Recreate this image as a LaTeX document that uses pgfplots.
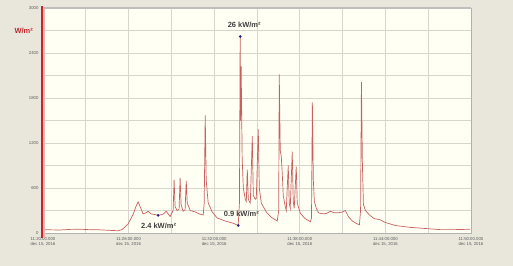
\documentclass[border=0pt]{standalone}
\usepackage{pgfplots}
\pgfplotsset{compat=1.18}
\usepackage{fontspec}
\setmainfont{Liberation Sans}
\definecolor{outerbg}{HTML}{E9E7DC}
\definecolor{innerbg}{HTML}{FFFFF3}
\definecolor{gridc}{HTML}{D6D6CC}
\definecolor{curve}{HTML}{C9605F}
\definecolor{axred}{HTML}{C0282B}
\definecolor{dotc}{HTML}{1F1F8F}
\begin{document}
\begin{tikzpicture}
\path[fill=outerbg, use as bounding box] (-43bp,-33bp) rectangle (470bp,233bp);
\begin{axis}[
  scale only axis, width=428bp, height=225bp,
  xmin=0, xmax=30, ymin=0, ymax=3000,
  xtick={0,6,...,30},
  xticklabels={{11:20:00.000\\dec 15, 2016},{11:26:00.000\\dec 15, 2016},{11:32:00.000\\dec 15, 2016},{11:38:00.000\\dec 15, 2016},{11:44:00.000\\dec 15, 2016},{11:50:00.000\\dec 15, 2016}},
  x tick label style={align=center, font=\fontsize{4.3}{5}\selectfont, text=black!65, yshift=-1bp},
  ytick={0,600,...,3000},
  y tick label style={font=\fontsize{4.3}{5}\selectfont, text=black!65, xshift=-1bp},
  /pgf/number format/assume math mode=true,
  /pgf/number format/1000 sep={},
  minor x tick num=1, minor y tick num=1,
  grid=both,
  major grid style={gridc, line width=0.7bp},
  minor grid style={gridc, line width=0.7bp},
  tick style={draw=none},
  axis background/.style={fill=innerbg},
  axis line style={draw=black!30, line width=0.7bp},
  clip=false,
]
\addplot[curve, line width=0.7bp] coordinates {
(0,45) (0.6,42) (1.19,40) (1.9,48) (2.6,50) (3.3,44) (4.0,42) (4.7,35) (5.26,30)
(5.54,45) (5.96,120) (6.32,250) (6.53,360) (6.67,415) (6.81,350) (7.02,255)
(7.23,270) (7.37,290) (7.58,255) (7.86,245) (8.07,235) (8.42,250) (8.63,290)
(8.91,220) (9.12,300) (9.19,710) (9.26,350) (9.40,300) (9.54,320) (9.61,736)
(9.68,380) (9.82,290) (9.96,310) (10.04,696) (10.11,400) (10.32,300) (10.67,280)
(11.02,250) (11.23,240) (11.30,400) (11.37,1567) (11.44,700) (11.58,400)
(11.86,280) (12.21,200) (12.77,160) (13.33,130) (13.68,100) (13.77,400)
(13.82,2620) (13.85,1500) (13.89,2220) (13.96,1000) (14.04,600) (14.18,450)
(14.25,420) (14.32,845) (14.39,450) (14.53,400) (14.67,1290) (14.74,500)
(14.88,450) (14.95,460) (15.09,1380) (15.16,600) (15.30,400) (15.65,280)
(16.0,210) (16.42,160) (16.52,300) (16.56,2115) (16.63,1100) (16.70,1020)
(16.77,800) (16.84,500) (16.98,350) (17.05,300) (17.19,900) (17.26,400)
(17.33,330) (17.47,1085) (17.54,420) (17.61,330) (17.75,885) (17.82,400)
(18.04,260) (18.39,190) (18.74,150) (18.82,200) (18.88,1740) (18.95,700)
(19.02,420) (19.16,330) (19.30,270) (19.58,255) (19.86,260) (20.14,290)
(20.42,270) (20.70,270) (20.98,280) (21.19,300) (21.40,220) (21.68,160)
(22.04,120) (22.18,110) (22.26,300) (22.32,2010) (22.39,900) (22.46,380)
(22.60,300) (22.88,240) (23.23,190) (23.58,180) (24.0,140) (24.7,100)
(25.75,75) (26.8,60) (27.86,45) (28.9,45) (29.96,50)
};
\addplot[only marks, mark=*, mark size=1.1bp, dotc] coordinates {(8.07,235) (13.68,100) (13.82,2620)};
\node[font=\bfseries\fontsize{7.5}{8}\selectfont, text=black!75] at (axis cs:8.1,95) {2.4 kW/m²};
\node[font=\bfseries\fontsize{7.5}{8}\selectfont, text=black!75] at (axis cs:13.9,255) {0.9 kW/m²};
\node[font=\bfseries\fontsize{7.5}{8}\selectfont, text=black!75] at (axis cs:14.1,2780) {26 kW/m²};
\node[font=\bfseries\fontsize{7.5}{8}\selectfont, text=axred] at (axis cs:-1.35,2700) {W/m²};
\draw[black!25, line width=1.5bp] (axis cs:0,3000) -- (axis cs:30,3000);
\draw[axred!35, line width=3bp] (axis cs:0.05,-60) -- (axis cs:0.05,3000);
\draw[axred, line width=2bp] (axis cs:-0.05,-60) -- (axis cs:-0.05,3020);
\end{axis}
\end{tikzpicture}
\end{document}
